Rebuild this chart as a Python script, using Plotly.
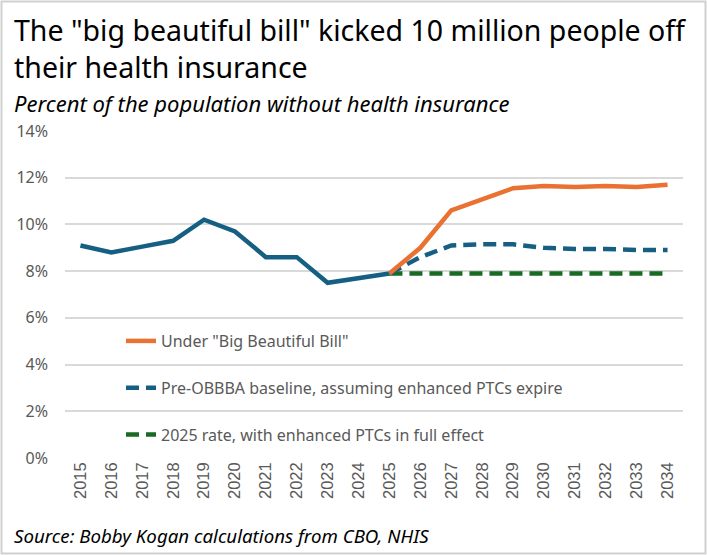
import plotly.graph_objects as go

years_hist = [2015, 2016, 2017, 2018, 2019, 2020, 2021, 2022, 2023, 2024, 2025]
hist_vals = [9.1, 8.8, 9.05, 9.3, 10.2, 9.7, 8.6, 8.6, 7.5, 7.7, 7.9]

years_proj = [2025, 2026, 2027, 2028, 2029, 2030, 2031, 2032, 2033, 2034]
obbba_vals = [7.9, 9.0, 10.6, 11.1, 11.55, 11.65, 11.6, 11.65, 11.6, 11.7]
baseline_vals = [7.9, 8.6, 9.1, 9.15, 9.15, 9.0, 8.95, 8.95, 8.9, 8.9]
rate2025_vals = [7.9, 7.9, 7.9, 7.9, 7.9, 7.9, 7.9, 7.9, 7.9, 7.9]

x_ticks = list(range(2015, 2035))
y_ticks = [0, 2, 4, 6, 8, 10, 12, 14]

BLUE = "#156082"
ORANGE = "#E97132"
GREEN = "#196B24"
GRAY = "#595959"

fig = go.Figure()
fig.add_trace(go.Scatter(x=years_hist, y=hist_vals, mode="lines", showlegend=False,
                         line=dict(color=BLUE, width=4.5)))
fig.add_trace(go.Scatter(x=years_proj, y=rate2025_vals, mode="lines",
                         name="2025 rate, with enhanced PTCs in full effect",
                         legendgroup="c", legendrank=3,
                         line=dict(color=GREEN, width=4.5, dash="13px,7px")))
fig.add_trace(go.Scatter(x=years_proj, y=baseline_vals, mode="lines",
                         name="Pre-OBBBA baseline, assuming enhanced PTCs expire",
                         legendgroup="b", legendrank=2,
                         line=dict(color=BLUE, width=4.5, dash="13px,7px")))
fig.add_trace(go.Scatter(x=years_proj, y=obbba_vals, mode="lines",
                         name='Under "Big Beautiful Bill"',
                         legendgroup="a", legendrank=1,
                         line=dict(color=ORANGE, width=4.5)))

L, R, T, B = 65, 24, 131, 97
W, H = 707, 555
pw, ph = W - L - R, H - T - B


def px_x(x):
    return (x - L) / pw


def px_y(y):
    return (H - B - y) / ph


fig.update_layout(
    width=W, height=H,
    margin=dict(l=L, r=R, t=T, b=B),
    paper_bgcolor="white", plot_bgcolor="white",
    font=dict(family="Noto Sans", color=GRAY),
    xaxis=dict(
        range=[2014.5, 2034.5], tickmode="array", tickvals=x_ticks,
        ticktext=[str(v) for v in x_ticks], tickangle=-90,
        tickfont=dict(family="Liberation Sans", size=16.5, color=GRAY),
        showgrid=False, zeroline=False, showline=False, ticks="",
        fixedrange=True,
    ),
    yaxis=dict(
        range=[0, 14], tickmode="array", tickvals=y_ticks,
        ticktext=[f"{v}%" for v in y_ticks],
        tickfont=dict(family="Noto Sans", size=16, color=GRAY),
        showgrid=True, gridcolor="#d9d9d9", gridwidth=1.5,
        zeroline=False, showline=False, ticks="", ticklabelstandoff=16,
    ),
    legend=dict(
        x=px_x(121), y=px_y(324), xanchor="left", yanchor="top",
        bgcolor="rgba(0,0,0,0)", tracegroupgap=23,
        font=dict(family="Noto Sans", size=16, color=GRAY),
    ),
    annotations=[
        dict(text='The "big beautiful bill" kicked 10 million people off<br>their health insurance',
             xref="paper", yref="paper", x=px_x(12), y=px_y(9),
             xanchor="left", yanchor="top", align="left", showarrow=False,
             font=dict(family="Noto Sans", size=28.5, color="black")),
        dict(text="Percent of the population without health insurance",
             xref="paper", yref="paper", x=px_x(12), y=px_y(86),
             xanchor="left", yanchor="top", showarrow=False,
             font=dict(family="Noto Sans", size=22, color="black", style="italic")),
        dict(text="Source: Bobby Kogan calculations from CBO, NHIS",
             xref="paper", yref="paper", x=px_x(12), y=px_y(521),
             xanchor="left", yanchor="top", showarrow=False,
             font=dict(family="Noto Sans", size=18.7, color="black", style="italic")),
    ],
    shapes=[
        dict(type="rect", xref="paper", yref="paper",
             x0=px_x(1.5), x1=px_x(W - 1.5),
             y0=px_y(H - 1.5), y1=px_y(1.5),
             line=dict(color="#d0d0d0", width=2), layer="below"),
    ],
)

fig.write_html("out.html", config={"displayModeBar": False},
               post_script="document.body.style.margin='0';document.body.style.overflow='hidden';")
